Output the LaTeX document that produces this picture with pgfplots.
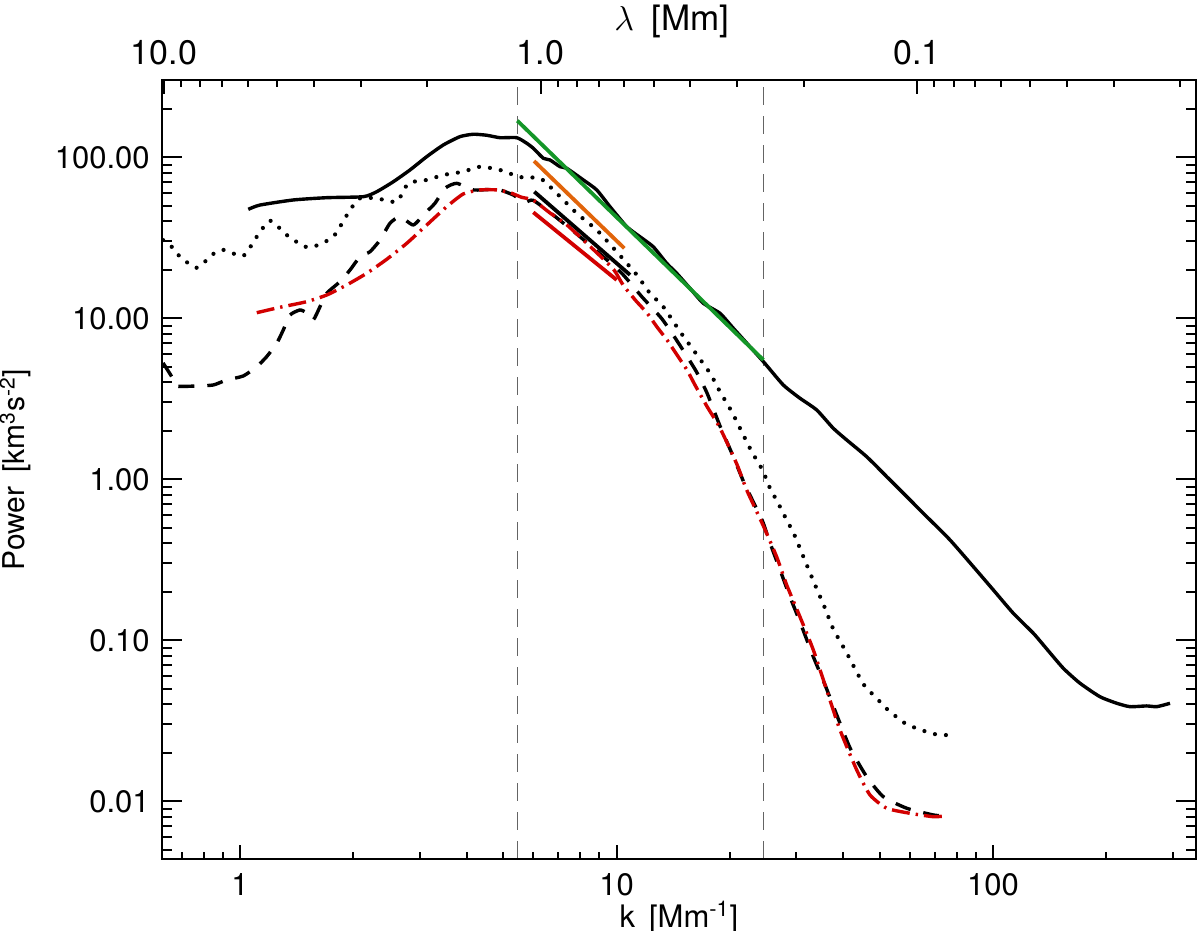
\documentclass[border=0pt]{standalone}
\usepackage{fontspec}
\setmainfont{TeX Gyre Heros}
\usepackage{pgfplots}
\pgfplotsset{compat=1.18}
\definecolor{myred}{RGB}{210,0,0}
\definecolor{mygreen}{RGB}{20,150,40}
\definecolor{myorange}{RGB}{225,100,10}
\definecolor{mygray}{RGB}{100,100,100}
\begin{document}
\begin{tikzpicture}
\path[use as bounding box] (-81pt,-36pt) rectangle (519pt,429.5pt);
% ---------- data axis, y ticks ----------
\begin{axis}[
  at={(0,0)}, anchor=south west, scale only axis, width=517pt, height=389.5pt,
  xmode=log, ymode=log, xmin=0.6206, xmax=346, ymin=0.00438, ymax=302,
  tick align=inside, axis line style={line width=1.2pt},
  tick style={line width=1pt, black},
  xtick=\empty, xminorticks=false,
  ytick={0.01,0.1,1,10,100}, yticklabels={0.01,0.10,1.00,10.00,100.00},
  minor ytick={0.005,0.006,0.007,0.008,0.009,0.02,0.03,0.04,0.05,0.06,0.07,0.08,0.09,0.2,0.3,0.4,0.5,0.6,0.7,0.8,0.9,2,3,4,5,6,7,8,9,20,30,40,50,60,70,80,90,200,300},
  ytick pos=both, yticklabel pos=left,
  major tick length=10pt, minor tick length=5pt,
  yticklabel style={font=\fontsize{15.5}{18}\selectfont, inner sep=0pt, xshift=-6pt},
  ylabel={Power\hspace{0.45em}[km\textsuperscript{3}s\textsuperscript{-2}]},
  ylabel style={font=\fontsize{15}{17}\selectfont, at={(axis description cs:-0.1325,0.5)}, anchor=base},
]
% vertical reference lines
\addplot[mygray, line width=0.6pt, dash pattern=on 9pt off 5.5pt] coordinates {(5.45,0.00438) (5.45,302)};
\addplot[mygray, line width=0.6pt, dash pattern=on 9pt off 5.5pt] coordinates {(24.55,0.00438) (24.55,302)};
% solid curve
\addplot[black, line width=1.7pt, line join=round, smooth, tension=0.35] coordinates {
(1.052,47.5) (1.130,50.5) (1.385,54.3) (1.700,56.1) (2.126,56.9) (2.307,61.1) (2.554,70.5) (2.828,83.4) (3.133,100.9) (3.467,119.2) (3.839,134.3) (4.166,139.0) (4.521,137.0) (4.904,132.3) (5.432,132.3) (5.774,122.2) (6.012,113.7) (6.391,98.6) (6.658,96.2) (7.079,87.4) (7.375,85.4) (8.163,72.3) (8.858,62.7) (9.610,49.3) (10.64,37.1) (11.54,32.1) (12.52,27.8) (13.59,21.96) (14.45,19.03) (15.67,15.36) (17.00,12.40) (18.83,10.74) (20.43,8.67) (24.55,5.375) (27.73,3.852) (30.72,3.185) (34.02,2.694) (37.65,2.074) (40.87,1.754) (46.18,1.381) (52.21,1.038) (59.00,0.780) (66.67,0.586) (76.88,0.4198) (88.65,0.2866) (100.2,0.2053) (113.2,0.1471) (128.0,0.1105) (138.9,0.0883) (153.7,0.0670) (170.2,0.0541) (192.4,0.0446) (213.3,0.0406) (231.1,0.0387) (256.0,0.0391) (272.2,0.0387) (295.2,0.0406)
};
% dotted curve
\addplot[black, line width=2.1pt, line cap=round, dash pattern=on 0pt off 5.5pt, smooth, tension=0.35] coordinates {
(0.6246,30.6) (0.6586,27.8) (0.6932,24.1) (0.7674,20.6) (0.8494,25.1) (0.9029,26.6) (1.020,24.4) (1.108,32.1) (1.201,40.4) (1.331,32.9) (1.473,28.1) (1.565,27.8) (1.769,32.1) (1.960,47.1) (2.083,55.6) (2.307,55.6) (2.608,53.0) (2.799,68.9) (3.133,72.3) (3.467,77.6) (3.918,81.4) (4.340,87.4) (4.904,83.4) (5.543,75.4) (6.263,74.1) (6.795,62.7) (7.841,44.9) (8.858,35.4) (10.01,25.9) (11.32,18.6) (12.27,14.30) (13.31,11.80) (14.75,8.26) (16.00,6.355) (17.72,4.554) (18.83,3.500) (20.23,2.630) (21.61,1.93) (22.86,1.484) (24.42,1.142) (25.57,0.879) (26.77,0.723) (28.31,0.559) (29.61,0.457) (31.67,0.312) (33.83,0.2153) (35.80,0.1580) (37.65,0.1175) (40.87,0.0834) (45.24,0.0535) (49.11,0.0436) (52.61,0.0369) (58.75,0.0302) (64.66,0.0277) (69.41,0.0262) (78.45,0.0256)
};
% dashed curve
\addplot[black, line width=1.7pt, dash pattern=on 8pt off 6.5pt, smooth, tension=0.35] coordinates {
(0.6246,5.278) (0.6586,4.339) (0.6761,3.797) (0.7674,3.797) (0.8494,3.852) (0.9219,4.139) (1.020,4.381) (1.108,5.005) (1.177,5.774) (1.252,6.993) (1.303,8.46) (1.358,10.48) (1.443,11.26) (1.504,10.79) (1.565,9.76) (1.631,11.80) (1.700,14.30) (1.843,16.88) (1.960,19.95) (2.083,24.1) (2.214,25.9) (2.354,30.6) (2.502,38.9) (2.661,42.8) (2.886,38.0) (3.099,44.9) (3.295,51.8) (3.503,64.2) (3.764,68.9) (4.166,62.7) (4.708,63.3) (4.904,62.7) (5.320,58.3) (5.700,52.5) (6.012,54.0) (6.866,42.9) (7.903,32.9) (9.042,25.1) (10.34,18.98) (11.69,13.56) (13.21,9.90) (14.66,6.925) (16.26,4.706) (17.39,3.436) (18.83,2.143) (20.43,1.381) (21.94,0.922) (24.35,0.559) (25.57,0.402) (27.19,0.2733) (28.90,0.1857) (30.72,0.1299) (33.26,0.0799) (35.80,0.0528) (38.28,0.0353) (41.71,0.02144) (46.18,0.01421) (51.12,0.01068) (59.00,0.00905) (69.41,0.00822) (74.57,0.00810)
};
% red dash-dot curve
\addplot[myred, line width=1.7pt, dash pattern=on 9pt off 3pt on 1.2pt off 3pt, smooth, tension=0.35] coordinates {
(1.108,10.83) (1.277,11.70) (1.504,12.68) (1.700,13.95) (1.920,16.10) (2.170,19.03) (2.453,23.25) (2.772,29.2) (3.133,37.97) (3.540,49.3) (3.918,59.2) (4.340,62.7) (4.806,62.7) (5.213,60.3) (5.601,56.4) (6.001,54.3) (6.658,45.1) (7.388,37.97) (8.931,25.1) (9.849,19.95) (10.41,16.10) (11.27,12.81) (12.05,10.79) (12.81,8.83) (13.62,7.33) (14.48,5.916) (15.39,4.774) (16.16,3.852) (17.36,2.853) (18.83,2.083) (20.86,1.245) (22.17,0.858) (24.55,0.513) (26.64,0.329) (28.31,0.2207) (30.72,0.1395) (33.32,0.0871) (36.16,0.0491) (39.24,0.0277) (43.45,0.01565) (47.13,0.01094) (52.21,0.00905) (60.19,0.00842) (69.41,0.00802) (74.57,0.00810)
};
% fitted power laws
\addplot[mygreen, line width=1.9pt] coordinates {(5.452,168.8) (24.55,5.508)};
\addplot[myorange, line width=1.9pt] coordinates {(6.038,94.8) (10.49,27.2)};
\addplot[black, line width=1.9pt] coordinates {(6.049,61.1) (10.86,18.6)};
\addplot[myred, line width=1.9pt] coordinates {(6.012,45.5) (10.01,17.3)};
\end{axis}
% ---------- bottom x axis (k) ----------
\begin{axis}[
  at={(0,0)}, anchor=south west, scale only axis, width=517pt, height=389.5pt,
  xmode=log, ymode=log, xmin=0.6206, xmax=346, ymin=0.00438, ymax=302,
  tick align=inside, axis line style={line width=1.2pt},
  tick style={line width=1pt, black},
  hide y axis,
  xtick={1,10,100}, xticklabels={1,10,100},
  minor xtick={0.7,0.8,0.9,2,3,4,5,6,7,8,9,20,30,40,50,60,70,80,90,200,300},
  xtick pos=left, xticklabel pos=left,
  major tick length=6.8pt, minor tick length=3.7pt,
  xticklabel style={font=\fontsize{15.5}{18}\selectfont, inner sep=0pt, yshift=-7pt},
  xlabel={k\hspace{0.45em}[Mm\textsuperscript{-1}]},
  xlabel style={font=\fontsize{15.5}{18}\selectfont, at={(axis description cs:0.5,-0.0873)}, anchor=base},
]
\end{axis}
% ---------- top x axis (lambda = 2 pi / k) ----------
\begin{axis}[
  at={(0,0)}, anchor=south west, scale only axis, width=517pt, height=389.5pt,
  xmode=log, ymode=log, xmin=0.6206, xmax=346, ymin=0.00438, ymax=302,
  tick align=inside, axis line style={line width=1.2pt},
  tick style={line width=1pt, black},
  hide y axis,
  xtick={0.628319,6.28319,62.8319}, xticklabels={10.0,1.0,0.1},
  minor xtick={0.69813,0.78540,0.89760,1.04720,1.25664,1.57080,2.09440,3.14159,6.98132,7.85398,8.97598,10.47198,12.56637,15.70796,20.94395,31.41593,69.8132,78.5398,89.7598,104.7198,125.6637,157.0796,209.4395,314.1593},
  xtick pos=right, xticklabel pos=right,
  major tick length=6.8pt, minor tick length=3.7pt,
  xticklabel style={font=\fontsize{17}{20}\selectfont, inner sep=0pt, yshift=7.5pt},
  title={$\lambda$\hspace{0.5em}[Mm]},
  title style={font=\fontsize{17.5}{21}\selectfont, at={(axis description cs:0.4932,1.0616)}, anchor=base, yshift=-5pt},
]
\end{axis}
\end{tikzpicture}
\end{document}
